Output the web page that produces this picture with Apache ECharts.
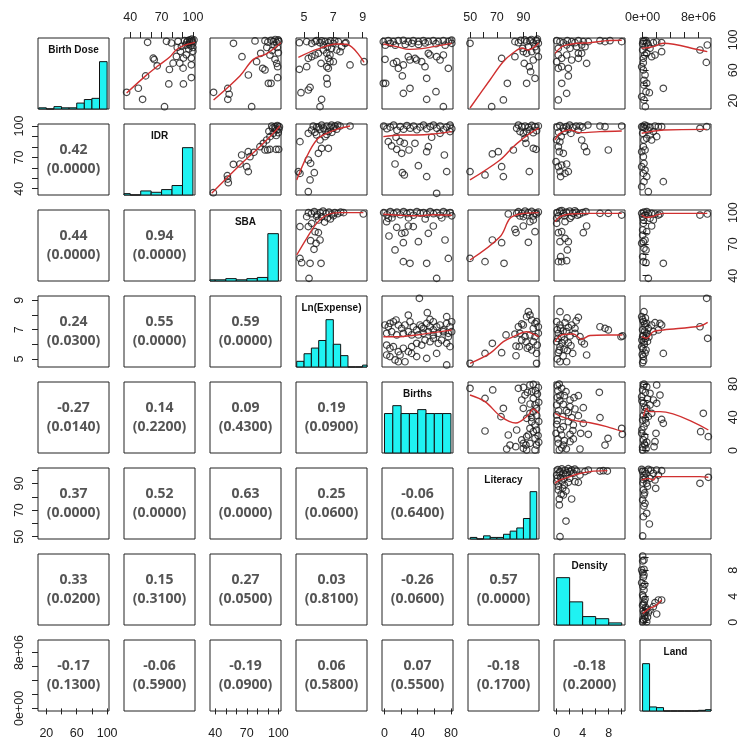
<!DOCTYPE html>
<html><head><meta charset="utf-8">
<script src="https://cdn.jsdelivr.net/npm/echarts@6/dist/echarts.min.js"></script>
<style>html,body{margin:0;padding:0;background:#fff}#c{width:750px;height:750px}</style>
</head><body><div id="c"></div>
<script>
// ---------- variables, axes ----------
const varNames = ['Birth Dose','IDR','SBA','Ln(Expense)','Births','Literacy','Density','Land'];
const axisMin = [9, 34, 35, 4.45, -3, 48.3, -0.4, -0.37e6];
const axisMax = [102.5, 102, 102.5, 9.3, 82.5, 101.7, 10.5, 9.8e6];
const tickValues = [[20,40,60,80,100],[40,50,60,70,80,90,100],[40,50,60,70,80,90,100],[5,6,7,8,9],[0,20,40,60,80],[50,60,70,80,90,100],[0,2,4,6,8,10],[0,2e6,4e6,6e6,8e6]];
const labelValues = [[20,60,100],[40,70,100],[40,70,100],[5,7,9],[0,40,80],[50,70,90],[0,4,8],[0,8e6]];

// ---------- histograms (diagonal) ----------
const histStart = [10, 30, 30, 4.5, 0, 50, 0, 0];
const histWidth = [10, 10, 10, 0.5, 10, 5, 2, 1e6];
const histBD = [1,0,2,1,1,5,8,9,40];
const histIDR = [1,0,3,2,4,7,35];
const histSBA = [1,1,2,1,2,3,40];
const histLE = [3,7,10,14,25,12,6,0,0,1];
const histBirths = [10,12,10,10,11,10,10,10];
const histLit = [1,0,2,1,1,3,5,7,13,30];
const histDen = [45,22,8,6,2];
const histLand = [70,6,5,0,0,0,0,0,1,2];

// ---------- correlations (lower triangle, row by row) ----------
const corrR = ['0.42','0.44','0.94','0.24','0.55','0.59','-0.27','0.14','0.09','0.19','0.37','0.52','0.63','0.25','-0.06','0.33','0.15','0.27','0.03','-0.26','0.57','-0.17','-0.06','-0.19','0.06','0.07','-0.18','-0.18'];
const corrP = ['0.0000','0.0000','0.0000','0.0300','0.0000','0.0000','0.0140','0.2200','0.4300','0.0900','0.0000','0.0000','0.0000','0.0600','0.6400','0.0200','0.3100','0.0500','0.8100','0.0600','0.0000','0.1300','0.5900','0.0900','0.5800','0.5500','0.1700','0.2000'];

// ---------- scatter points [x (column var), y (row var)] and smooth fits ----------
const bd_idr = [[56.6,96.8],[36.5,31],[47.7,36.3],[51.8,21.8],[54.7,52.6],[62,76],[63,74],[65.8,65.9],[72.8,12],[76.9,42],[90.9,42],[98.5,50.4],[98.5,67.2],[77.5,61],[81,69.4],[84.2,78.2],[87.4,69.4],[89,91.5],[93.7,80.4],[90.6,62.8],[98.5,76],[79.4,95.9],[74.7,98.1],[85.8,98.1],[95,99],[97,100],[99,98],[100,96],[96,94],[98,92],[100,90],[94,97],[92,99],[101,100],[99,101],[97,97],[93,93],[100,85],[96,88],[88,85],[91,76],[85,90]];
const bd_idr_fit = [[36.5,30],[54.7,52.6],[66.7,65.9],[77.8,77.5],[84.2,87.1],[93.7,93.7],[102,96.8]];
const bd_sba = [[57.3,95.5],[65.4,77.9],[38.4,31],[51.9,36.1],[53.2,28.4],[51.9,21.7],[77.8,98.6],[87.3,99],[95.2,97.7],[98.4,96.3],[83.2,82.3],[79.3,71.3],[85.1,62.6],[87.3,60.4],[71.5,53.8],[92,80],[96.8,74.4],[98.4,69.1],[99.3,64.7],[90.5,42.8],[93,42.8],[99.3,50.2],[74.6,12.1],[100,100],[100.5,98],[97,100.5],[93,99.5],[90,97],[96,93],[99,90],[94,86],[100,83],[89,90]];
const bd_sba_fit = [[38.4,20.9],[63.4,52.5],[76.2,74.4],[89,82],[102.4,96.3]];
const bd_le = [[4.68,96.3],[5.18,97.7],[5.52,95.5],[5.75,97.7],[6.09,96.3],[6.43,97.7],[6.66,96.3],[7.0,95.5],[7.34,97.7],[7.8,95.5],[5.98,82.3],[6.32,86.7],[6.55,82.3],[6.88,88.9],[7.23,86.7],[7.57,91.1],[7.46,84.5],[6.77,80.1],[6.66,75.7],[6.77,71.3],[7.0,71.3],[5.52,77.9],[5.29,75.7],[5.75,80.1],[4.68,61.2],[5.18,64.7],[6.16,69.1],[6.55,64.7],[6.66,62.6],[6.55,49.4],[6.59,41.9],[5.41,37.5],[5.29,34],[4.79,30.5],[6.2,21.7],[6.09,12.1],[8.14,67],[9.1,71.3],[7.86,96.3],[5.86,99],[6.2,98.8],[6.8,98.8],[7.1,98.8],[6.32,93.3],[6.6,91.1]];
const bd_le_fit = [[4.61,77],[5.86,87.5],[7.23,94.6],[7.91,94.2],[9.1,70.5]];
const bd_bir = [[-1.4,97.7],[4.6,99],[10.7,97.7],[16.7,99],[22.7,99.5],[28.7,97.7],[34.7,99],[40.8,97.7],[46.8,99],[52.8,97.7],[58.8,99],[64.8,97.7],[70.9,99],[76.9,97.7],[80.9,99.8],[1,93],[7,95.5],[13,93],[25,94],[33,95.5],[41,94],[49,96],[62,95],[73,93],[81,95.5],[0.6,74.4],[10.7,69.1],[14.7,71.3],[16.7,62.6],[22.7,67],[28.7,77.9],[30.7,73.5],[36.8,75.7],[38.7,73.5],[44.8,71.3],[52.8,82.3],[54.8,80.1],[62.8,77.9],[66.9,73.5],[70.9,80.1],[76.9,62.6],[48.8,64.7],[-1.4,42.8],[1.4,42.8],[22.7,29.6],[30.7,36.2],[21.5,52.5],[50.8,49.4],[62,31.8],[50.8,21.7],[70.9,12.1]];
const bd_bir_fit = [[-1.4,94.6],[14.7,91.1],[30,87.5],[45,88.5],[58.8,91.1],[81,95.5]];
const bd_lit = [[49.8,95.5],[66.1,12.1],[74.9,20.9],[77.9,42.8],[73.6,75.7],[83.6,77.9],[89.4,88.9],[89.9,84.5],[83.6,97.7],[86.2,96.3],[92.4,97.7],[94.9,99],[97.4,96.3],[99.9,99],[101.2,95.5],[93.7,91.1],[98.7,91.1],[96.2,84.5],[99.9,86.7],[92.4,82.3],[90.6,69.1],[94.4,64.7],[95.4,58.2],[92.4,42.8],[98.7,49.4],[97.4,73.5],[101.2,77.9],[91,100],[96,100.5],[100.5,101],[88,99.5]];
const bd_lit_fit = [[49.8,10.3],[64.8,47.2],[74.6,70.9],[82.1,82.7],[88.9,89.3],[93.4,86.7],[101.5,95.9]];
const bd_den = [[0.01,99],[0.52,97.7],[1.03,96.3],[1.65,99],[2.31,97.7],[2.82,96.3],[3.34,99],[4.1,97.7],[4.87,97.7],[6.66,99],[7.43,97.7],[8.2,99],[9.99,97.7],[0.26,88.9],[1.54,93.3],[2.05,88.9],[3.08,91.1],[3.85,93.3],[4.36,91.1],[0.26,80.1],[0.78,75.7],[1.54,80.1],[2.31,73.5],[3.34,82.3],[3.85,82.3],[4.61,69.1],[3.34,75.7],[0.26,62.6],[0.78,64.7],[1.8,62.6],[0.01,71.3],[1.8,52.5],[0.78,42.8],[1.54,29.6],[0.26,20.9]];
const bd_den_fit = [[-0.25,82.3],[0.78,91],[1.54,93.3],[3.08,95.5],[5.13,96.3],[7.69,99],[10,99.5]];
const bd_land = [[0.11e6,97.7],[0.59e6,96.3],[0.35e6,91.1],[0.01e6,86.7],[0.82e6,93.3],[1.54e6,96.3],[2.02e6,97.2],[2.73e6,96.3],[1.06e6,88.9],[0.59e6,82.3],[1.78e6,80.1],[1.3e6,77.9],[2.73e6,84.5],[0.11e6,75.7],[-0.13e6,64.7],[0.11e6,60.4],[0.35e6,53.8],[0.2e6,46.8],[0.59e6,42.8],[0.2e6,40.6],[0.49e6,31.8],[0.97e6,30.5],[0.2e6,20.9],[0.39e6,12.1],[-0.13e6,25.3],[2.97e6,36.2],[8.22e6,86.7],[9.27e6,93.3],[9.13e6,70.4],[0.2e6,99],[0.49e6,99],[0.01e6,95],[0.3e6,80],[0.1e6,70]];
const bd_land_fit = [[-0.13e6,88.9],[1.54e6,91.1],[2.97e6,95.5],[8.22e6,86.7],[9.27e6,84.5]];

const idr_sba = [[38.2,36.2],[51.8,49.3],[52.4,45.8],[51.5,52.5],[57.2,63.4],[65.1,72.3],[71.4,75.5],[63.5,63.7],[73,70.7],[76.8,74.9],[82.5,80.3],[85.7,83.5],[88.9,86.7],[92,89.9],[95.2,93.1],[98.4,96.2],[101,99.4],[96.8,99.4],[93.7,100.1],[99.9,93.7],[87.3,77.1],[89.8,77.1],[92,77.7],[97.8,77.7],[100.3,77.7],[69.9,61.1],[71.4,56.4],[99,100.5],[100.5,97],[97,97.5],[91,95],[94.5,98],[98,91]];
const idr_sba_fit = [[36.6,35.6],[63.5,62.7],[80,78],[95,93],[101.5,100.1]];
const idr_le = [[4.72,85.1],[4.61,56.4],[4.72,54.7],[5.29,67.5],[5.45,64.3],[5.41,48.4],[5.7,55.4],[5.29,37.2],[5.98,73.9],[6.2,78.7],[6.66,78.7],[6.43,89.9],[6.09,86.7],[5.86,91.5],[5.29,93.1],[5.52,96.2],[7.46,100.1],[8.14,100.1],[5.63,100],[5.98,99],[6.2,101],[6.32,98],[6.55,100],[6.77,99],[6.88,101],[7,98],[7.11,100],[7.23,97],[6.66,95],[6.43,96],[6.09,97],[5.86,99],[7.3,101],[5.75,94],[6.55,92],[6.9,94]];
const idr_le_fit = [[4.5,48.4],[5.18,70.7],[5.86,86.7],[6.55,93.1],[7.23,96.9],[8.14,100.1]];
const idr_bir = [[4.6,85.1],[8.6,81],[13.9,89.3],[14.7,77.7],[18.7,85.1],[23.9,83.5],[20.7,73.9],[12.7,63.7],[21.5,55.4],[23.9,53.2],[29.5,77.1],[36.7,83.5],[40.8,62.1],[50.8,51.6],[52.8,80.3],[50.8,75.5],[56.8,89.3],[72.1,72.3],[74.9,56.4],[62.8,35.6],[66.9,93.1],[78.9,94.7],[-1,100],[3,97.5],[7,99],[11,101],[15,96],[19,99.5],[23,97],[27,100.5],[31,98],[35,100],[39,96.5],[43,99],[47,101],[51,97.5],[55,99.5],[59,101],[63,98],[67,100],[71,96.5],[75,99],[79,101],[81,97.5]];
const idr_bir_fit = [[-1.4,89.9],[18.7,91.5],[38.7,91.5],[58.8,92.4],[81,94.7]];
const idr_lit = [[49.8,56.4],[61.1,53.2],[66.6,73.3],[71.1,75.5],[73.6,61.1],[74.9,51.6],[82.4,77.1],[84.9,97.9],[91.2,88.3],[91.9,83.5],[94.4,56.4],[97.4,78.7],[99.5,77.7],[86.2,101],[88.7,99.4],[91.2,100.1],[93.7,98.8],[96.2,100.7],[98.7,99.4],[101.2,100.1],[92.4,94.7],[94.9,96.3],[97.4,93.7],[99.9,95.6],[89.9,93.1],[87.4,94.7]];
const idr_lit_fit = [[49.8,48.4],[72.4,67.5],[82.4,80.3],[89.9,88.3],[94.9,93.1],[101.5,98]];
const idr_den = [[0.27,80.3],[0.42,75.5],[1.03,73.9],[-0.09,65.9],[0.27,61.1],[0.78,62.7],[1.54,63.7],[0.52,56.4],[1.29,54.7],[1.8,56.4],[0.62,51.6],[3.85,86.7],[4.26,80.3],[4.61,75.5],[7.94,77.1],[9.99,100.1],[6.66,100.1],[7.43,99.4],[3.59,100.1],[0.1,99],[0.5,100.5],[1,98],[1.5,99.5],[2,101],[2.5,98.5],[3,100],[4,99],[4.8,101],[0.3,94],[1.2,95],[2.2,93],[0.7,90],[1.8,97],[3.3,96],[0,87],[0.5,85]];
const idr_den_fit = [[-0.25,86.7],[0.52,93.1],[2.06,96.3],[3.59,93.7],[6.66,94.7],[10,95.3]];
const idr_land = [[-0.13e6,99.4],[0.35e6,97.9],[0.59e6,100.1],[1.06e6,98.8],[1.78e6,100.1],[2.26e6,99.4],[2.73e6,99.4],[1.54e6,94.7],[1.06e6,91.5],[2.02e6,89.9],[1.3e6,86.7],[0.59e6,88.3],[0.11e6,80.3],[-0.13e6,75.5],[0.35e6,77.1],[0.11e6,70.7],[0.2e6,64.3],[-0.13e6,61.1],[0.35e6,57.9],[0.11e6,54.7],[0.59e6,51.6],[0.2e6,46.8],[-0.13e6,42],[0.82e6,37.2],[2.97e6,46.8],[8.22e6,97.9],[9.18e6,99.4],[0.01e6,93.1],[0.2e6,86.7],[0.1e6,99],[0.3e6,101],[0.8e6,96]];
const idr_land_fit = [[-0.13e6,93.1],[1.06e6,94.7],[2.97e6,96.3],[9.18e6,96.9]];

const sba_le = [[5.18,96.2],[5.29,86.7],[4.72,86.7],[5.52,89.8],[5.75,81.9],[5.98,81],[5.45,73.3],[6.09,74],[5.68,65.1],[5.82,70.8],[4.72,56.5],[4.84,52.4],[5.41,51.8],[6.16,51.8],[5.34,37.5],[9.05,98.7],[5.5,99],[5.7,101],[5.9,98],[6.1,100],[6.3,101.5],[6.5,99],[6.7,100.5],[6.9,98.5],[7.1,100],[7.3,99],[7.5,100.5],[6.2,96],[6.6,95],[6.0,93],[6.4,91],[5.85,96.5],[7.0,97],[6.8,94],[7.7,100],[5.3,100]];
const sba_le_fit = [[4.5,59.7],[5.18,75.6],[5.86,89.8],[6.55,97.7],[7.46,100],[9.05,100]];
const sba_bir = [[5.4,77.8],[14.7,86],[24.7,81],[20.7,80.3],[22.7,71.4],[12.7,64.5],[28.7,87.3],[34.7,86.7],[40.8,72.4],[52.8,80.3],[58.8,87.3],[72.9,74],[76.9,56.5],[22.7,53.4],[30.7,51.8],[50.8,51.8],[62.8,37.5],[2.6,91.4],[4.6,94.6],[-1,100],[3,98],[7,101],[11,99],[15,100.5],[19,98],[23,101],[27,99],[31,100],[35,97.5],[39,101],[43,99.5],[47,100],[51,98.5],[55,101],[59,99],[63,100],[67,97.5],[71,101],[75,99],[79,100],[81,97],[9,95],[29,95],[49,94],[69,95]];
const sba_bir_fit = [[-1.4,98.5],[20,97.5],[40,97],[60,98],[81,97.5]];
const sba_lit = [[49.8,56.5],[61.1,53.4],[66.6,74],[73.6,71.4],[75.4,51.8],[78.6,98.7],[83.6,84.1],[84.4,81],[89.9,87.3],[93.7,71.8],[94.9,91.4],[98.7,81.9],[97.4,93],[89.9,96.2],[86.2,100.9],[88.7,99.3],[91.2,101.5],[93.7,100],[96.2,101.2],[98.7,99.3],[101.2,100.6],[87.4,96.8],[92.4,97.7],[97.4,96.8],[99.9,98.7],[84.9,99.3]];
const sba_lit_fit = [[49.8,55],[72.4,77.1],[79.9,94.6],[87.4,98.7],[101.5,100]];
const sba_den = [[0.01,89.8],[0.27,80.9],[0.78,81.9],[0.52,72.4],[1.29,75.6],[1.8,72.4],[1.65,64.5],[0.62,58.1],[0.27,53.4],[0.78,53.4],[1.54,54.3],[4.1,80.9],[4.61,87.3],[9.99,97.7],[6.66,99.3],[7.94,99.3],[2.06,94.6],[1.29,91.4],[0.01,94.6],[0.1,100],[0.5,101.5],[1,99],[1.5,100.5],[2,101.5],[2.5,99.5],[3,100.5],[3.5,98.5],[4,100],[4.5,101],[0.3,97],[1.2,97],[2.3,96.5],[3.2,97.5],[0.8,102],[2.8,101.8]];
const sba_den_fit = [[-0.25,91.4],[0.52,96.2],[2.06,98.7],[5.13,99.3],[10,99.3]];
const sba_land = [[-0.13e6,99.3],[0.35e6,97.7],[0.82e6,98.7],[1.3e6,99.3],[1.78e6,98.7],[2.26e6,97.7],[2.49e6,98.7],[1.06e6,94.6],[1.54e6,93],[1.3e6,87.3],[0.11e6,89.8],[0.01e6,83.5],[0.59e6,81.9],[0.35e6,74],[0.11e6,72.4],[-0.13e6,70.8],[0.2e6,66.1],[0.49e6,64.5],[0.01e6,58.1],[0.11e6,53.4],[0.49e6,52.4],[0.82e6,37.5],[2.97e6,51.8],[8.22e6,97.7],[9.27e6,98.7],[0.11e6,93],[0.01e6,78.7],[0.2e6,100.5],[0.6e6,101],[0,96]];
const sba_land_fit = [[-0.13e6,97.7],[0.59e6,95.4],[1.54e6,96.6],[2.97e6,99.3],[9.27e6,99.3]];

const le_bir = [[42,9.14],[28.7,8.0],[51.6,8.16],[54.8,7.7],[74.9,7.89],[58.8,7.54],[44.8,7.2],[0.6,7.32],[4.6,7.2],[6.6,7.43],[10.7,7.54],[13.9,7.66],[16.7,7.32],[20.7,7.09],[24.7,7.32],[30.7,7.54],[34.7,7.2],[38.7,6.98],[42.8,7.32],[46.8,7.09],[50.8,7.43],[54.8,7.2],[58.8,6.98],[62.8,7.2],[66.9,7.32],[70.9,6.98],[74.9,7.43],[78.9,7.2],[80.9,7.54],[2.6,6.75],[8.6,6.86],[14.7,6.64],[22.7,6.75],[28.7,6.86],[32.7,6.64],[40.8,6.64],[46.8,6.75],[52.8,6.86],[58.8,6.64],[64.8,6.75],[70.9,6.86],[76.9,6.75],[80.9,6.86],[2.6,5.95],[6.6,5.73],[10.7,5.84],[16.7,5.5],[22.7,5.73],[28.7,5.5],[32.7,5.84],[38.7,6.07],[44.8,5.95],[48.8,6.29],[54.8,6.18],[58.8,6.41],[64.8,6.07],[68.8,6.29],[74.9,6.07],[78.9,5.84],[76.9,6.52],[6.6,5.16],[12.7,4.93],[18.7,5.27],[24.7,4.81],[32.7,5.38],[38.7,5.16],[50.8,5.04],[62.8,5.38],[74.9,4.59],[16.7,4.81],[2.6,5.27]];
const le_bir_fit = [[-1.4,6.52],[14.7,6.52],[38.7,6.64],[58.8,6.8],[81,6.98]];
const le_lit = [[49.8,4.7],[61.1,5.38],[66.6,6.07],[73.6,5.43],[76.9,6.64],[83.6,6.7],[84.4,5.88],[84.4,5.22],[86.2,7.2],[88.7,7.39],[92.4,7.89],[93.7,8.23],[94.9,8.0],[96.2,7.66],[97.4,7.09],[98.7,6.52],[99.9,7.55],[94.4,5.84],[92.9,5.73],[99.9,5.38],[101.2,6.75],[89.9,7.32],[91.2,6.52],[94.9,6.64],[87.4,6.75],[88.7,6.29],[92,6.18],[97.4,6.18],[96.2,5.61],[100.4,5.95],[98.7,7.43],[101.2,7.2],[86.9,5.84],[99.9,4.7]];
const le_lit_fit = [[49.8,4.7],[64.8,5.38],[74.9,6.18],[82.4,6.52],[92.4,6.86],[96.2,6.75],[101.5,6.52]];
const le_den = [[0.52,8.23],[3.34,7.84],[0.01,7.55],[0.52,7.32],[1.29,7.48],[1.8,7.16],[2.31,7.32],[2.82,7.09],[1.54,6.86],[0.27,6.75],[0.78,6.52],[2.06,6.57],[2.82,6.75],[3.59,6.52],[3.85,6.18],[4.26,6.02],[0.01,6.18],[0.52,5.84],[1.14,5.66],[0.27,5.43],[1.65,5.57],[2.47,5.38],[4.61,5.27],[0.52,4.81],[1.54,4.81],[6.66,7.2],[7.43,7.09],[7.94,6.98],[9.89,6.52],[10.14,6.57],[0.1,7.0],[0.6,7.1],[1.0,6.9],[0.2,6.4],[1.2,6.3],[0.8,6.1],[0.4,5.6],[1.0,5.2],[0.1,5.0],[1.8,6.1],[2.2,5.9],[3.0,7.6],[1.6,7.8]];
const le_den_fit = [[-0.25,6.18],[0.78,6.64],[2.57,6.7],[3.85,6.35],[5.13,6.6],[7.69,6.64],[10.1,6.64]];
const le_land = [[0.2e6,8.23],[-0.13e6,7.89],[0.11e6,7.55],[0.59e6,7.43],[1.3e6,7.32],[1.78e6,7.48],[2.49e6,7.43],[1.54e6,6.86],[2.26e6,6.98],[2.73e6,7.32],[0.59e6,6.75],[0.01e6,6.52],[0.2e6,6.18],[-0.13e6,5.84],[0.49e6,5.61],[0.11e6,5.16],[0.01e6,4.75],[2.97e6,5.38],[9.18e6,9.14],[8.22e6,7.2],[9.32e6,6.41],[0.35e6,7.2],[0.82e6,7.09],[0,7.0],[0.3e6,6.9],[0.1e6,6.6],[0.4e6,6.4],[-0.1e6,6.3],[0.25e6,6.0],[0.05e6,5.7],[0.35e6,5.4],[-0.05e6,5.3],[0.15e6,4.9],[0.5e6,6.6],[0.7e6,6.2],[0,7.7],[0.4e6,7.8],[0.9e6,6.5],[0.3e6,7.4]];
const le_land_fit = [[-0.13e6,6.52],[0.59e6,6.41],[1.54e6,6.86],[2.97e6,6.98],[8.22e6,7.25],[9.32e6,7.5]];

const bir_lit = [[49.8,74.9],[61.1,62.8],[66.9,72.9],[61.1,23.5],[74.9,50.8],[73.1,40.8],[78.6,18.7],[79.9,6.6],[77.4,1.8],[84.2,4.6],[84.9,24.7],[86.2,74.9],[88.7,60.8],[89.9,50.8],[91.2,66.8],[92.4,38.7],[93.7,18.7],[94.9,78.9],[97.4,79.7],[96.2,70.9],[97.4,62.8],[98.7,54.8],[99.9,50.8],[97.4,46.8],[94.9,44.8],[96.2,34.7],[98.7,30.7],[99.9,24.7],[97.4,22.7],[94.9,26.7],[92.4,16.7],[98.7,14.7],[99.9,6.6],[94.9,8.6],[91.9,6.6],[89.9,8.6],[88.7,12.7],[89.9,2.6],[92.4,0.6],[98.7,0.6],[96.2,39.6],[101.2,76],[100.5,68],[101.5,58],[100,42],[101.5,35],[101,18],[101.5,10],[99,72],[93,70],[90,76],[95,56]];
const bir_lit_fit = [[49.8,66.8],[61.1,58.8],[73.1,40.8],[84.2,33.1],[93.7,42.8],[97.4,50],[101.5,44.8]];
const bir_den = [[0.12,78.1],[0.78,74.9],[1.44,70.9],[0.52,66],[2.06,60.8],[2.67,63.6],[3.34,66],[1.03,55.6],[0.01,54.8],[2.06,52.8],[2.82,50],[4.1,51.6],[0.01,42.8],[0.93,40.8],[1.8,45.8],[2.31,39.6],[3.34,42],[0.01,31.5],[1.03,28.7],[1.8,34.7],[2.57,30.7],[4.1,32.7],[4.87,19.5],[3.69,20.7],[2.06,19.5],[0.78,18.7],[-0.09,20.7],[0.27,8.6],[1.03,6.6],[2.06,10.6],[2.57,13.9],[3.59,1.8],[0.42,0.6],[6.56,70.1],[6.66,39.6],[7.89,14.7],[7.43,6.6],[9.99,26.7],[10.09,19.5],[0.2,72],[0.5,60],[0.3,48],[0.1,36],[0.6,25],[0.2,14],[1.2,12],[1.5,2],[0.8,3],[0.1,64],[1.2,66],[1.5,48],[2.5,24],[0.4,80]];
const bir_den_fit = [[-0.25,44.8],[0.78,40.8],[2.06,37.5],[3.85,34.7],[5.13,33.5],[7.69,28.7],[10.09,22.7]];
const bir_land = [[1.06e6,68.9],[2.02e6,78.9],[2.49e6,66.8],[1.54e6,60.8],[1.06e6,54.8],[2.02e6,56.8],[1.3e6,44.8],[0.82e6,40.8],[0.59e6,50.8],[2.73e6,37.5],[2.97e6,32.7],[1.92e6,20.7],[1.78e6,10.6],[1.64e6,4.6],[8.7e6,44.8],[8.32e6,22.7],[9.42e6,16.7],[0.59e6,76.9],[0.01e6,72.9],[-0.13e6,64.8],[0.11e6,56.8],[0.35e6,46.8],[0.01e6,36.7],[0.2e6,28.7],[-0.13e6,20.7],[0.11e6,12.7],[0.35e6,6.6],[0.01e6,0.6],[0.2e6,80],[0.4e6,70],[-0.1e6,60],[0.3e6,52],[0.1e6,42],[0.5e6,33],[-0.1e6,25],[0.3e6,17],[0.6e6,10],[0,4],[0.5e6,2],[0.15e6,78],[0.7e6,62],[0.4e6,38],[0.25e6,8]];
const bir_land_fit = [[0.11e6,40.8],[0.59e6,50.8],[0.97e6,46.8],[2.49e6,46.8],[9.42e6,24.7]];

const lit_den = [[0.01,96.4],[0.52,99],[1.03,97.7],[1.44,96.4],[2.06,99],[2.57,97.7],[3.08,99.4],[3.59,96.4],[4.36,99],[4.87,100.2],[6.66,99.4],[7.17,99.7],[7.79,99.4],[0.01,91.4],[0.78,91.9],[1.8,90.9],[2.82,91.4],[3.34,90.9],[0.27,85.2],[0.93,86.4],[1.44,84.4],[1.19,88.9],[0.42,78.4],[1.03,81.4],[2.31,78.4],[0.42,73.9],[1.44,61.8],[0.52,50.1],[0.2,100.5],[0.8,101],[1.3,100],[1.8,101.2],[2.3,100.3],[0.4,98],[1.6,98.3],[2.8,100.8],[0.1,94],[0.6,94.5],[1.1,93.5],[2,94],[0.3,88],[0.7,82]];
const lit_den_fit = [[-0.25,90.2],[0.52,92.7],[2.06,95.2],[3.08,97],[5.13,99],[7.79,99.7]];
const lit_land = [[-0.13e6,100.7],[0.35e6,98.9],[0.82e6,100.7],[1.54e6,97.7],[2.26e6,96.4],[2.73e6,99.7],[1.06e6,93.9],[1.78e6,92.7],[1.88e6,86.4],[0.59e6,90.2],[0.11e6,85.2],[0.2e6,81.4],[0.01e6,77.6],[0.35e6,75.1],[0.2e6,73.1],[0.59e6,67.6],[0.11e6,65.1],[0.97e6,59.6],[0.01e6,50.6],[8.22e6,90.2],[9.42e6,94.7],[0,99],[0.2e6,96],[0.5e6,97.5],[0.1e6,93],[0.4e6,94],[0.7e6,88],[0.3e6,83],[0.05e6,90.5],[1.2e6,100],[2.0e6,100.2]];
const lit_land_fit = [[-0.13e6,92.7],[0.82e6,93.9],[1.54e6,92.7],[2.02e6,95.2],[8.22e6,95.2],[9.42e6,94.7]];

const den_land = [[0.01e6,10.19],[0.2e6,9.58],[0.01e6,9.43],[0.2e6,8.15],[-0.13e6,8.04],[0.01e6,7.64],[0.2e6,7.28],[0.11e6,6.92],[-0.13e6,6.1],[0.2e6,4.97],[0.01e6,4.21],[0.35e6,3.54],[0.11e6,2.82],[0.59e6,2.0],[0.2e6,1.39],[0.82e6,1.49],[1.06e6,1.9],[1.54e6,2.41],[1.78e6,3.03],[2.26e6,3.44],[2.73e6,3.44],[2.02e6,1.29],[0.35e6,0.62],[0.01e6,0.11],[0.59e6,0.11],[0.05e6,0.5],[0.3e6,1.0],[0.1e6,1.8],[0.45e6,2.3],[0,2.6],[0.25e6,3.1],[0.15e6,0.3],[0.4e6,1.6],[0.7e6,0.8],[0.05e6,5.5],[0.3e6,5.8],[0.1e6,3.9]];
const den_land_fit = [[0.01e6,1.39],[0.35e6,1.65],[0.97e6,2.16],[1.78e6,2.5],[2.73e6,3.44]];

// ---------- build ----------
const histCounts = [histBD, histIDR, histSBA, histLE, histBirths, histLit, histDen, histLand];
const pairs = [
  [0,1,bd_idr,bd_idr_fit],[0,2,bd_sba,bd_sba_fit],[0,3,bd_le,bd_le_fit],[0,4,bd_bir,bd_bir_fit],[0,5,bd_lit,bd_lit_fit],[0,6,bd_den,bd_den_fit],[0,7,bd_land,bd_land_fit],
  [1,2,idr_sba,idr_sba_fit],[1,3,idr_le,idr_le_fit],[1,4,idr_bir,idr_bir_fit],[1,5,idr_lit,idr_lit_fit],[1,6,idr_den,idr_den_fit],[1,7,idr_land,idr_land_fit],
  [2,3,sba_le,sba_le_fit],[2,4,sba_bir,sba_bir_fit],[2,5,sba_lit,sba_lit_fit],[2,6,sba_den,sba_den_fit],[2,7,sba_land,sba_land_fit],
  [3,4,le_bir,le_bir_fit],[3,5,le_lit,le_lit_fit],[3,6,le_den,le_den_fit],[3,7,le_land,le_land_fit],
  [4,5,bir_lit,bir_lit_fit],[4,6,bir_den,bir_den_fit],[4,7,bir_land,bir_land_fit],
  [5,6,lit_den,lit_den_fit],[5,7,lit_land,lit_land_fit],
  [6,7,den_land,den_land_fit]
];

const L0 = 38, STEP = 86, SZ = 71;
const FONT = '"Liberation Sans", Arial, sans-serif';
function fmt(v, k) {
  if (k === 7) {
    if (v === 0) return '0e+00';
    const e = Math.floor(Math.log10(Math.abs(v)));
    const m = Math.round(v / Math.pow(10, e));
    return m + 'e+' + (e < 10 ? '0' : '') + e;
  }
  return String(v);
}
const grids = [], xAxes = [], yAxes = [], series = [], graphics = [];
for (let i = 0; i < 8; i++) for (let j = 0; j < 8; j++) {
  const k = i * 8 + j;
  grids.push({left: L0 + STEP * j, top: L0 + STEP * i, width: SZ, height: SZ, show: true,
    borderColor: '#222', borderWidth: 1, backgroundColor: 'rgba(0,0,0,0)'});
  const top = i === 0 && j % 2 === 1, bottom = i === 7 && j % 2 === 0, xs = top || bottom;
  xAxes.push({gridIndex: k, type: 'value', min: axisMin[j], max: axisMax[j], position: top ? 'top' : 'bottom',
    axisLine: {show: false}, splitLine: {show: false},
    axisTick: {show: xs, length: 6, lineStyle: {color: '#222', width: 1}, customValues: tickValues[j]},
    axisLabel: {show: xs, customValues: labelValues[j], formatter: v => fmt(v, j), margin: bottom ? 16 : 14,
      color: '#222', fontSize: 12.5, fontFamily: FONT}});
  const left = j === 0 && i % 2 === 1, right = j === 7 && i % 2 === 0, ys = left || right;
  const diag = i === j;
  yAxes.push({gridIndex: k, type: 'value', min: diag ? 0 : axisMin[i],
    max: diag ? 1.5 * Math.max(...histCounts[i]) : axisMax[i], position: right ? 'right' : 'left',
    axisLine: {show: false}, splitLine: {show: false},
    axisTick: {show: ys, length: 6, lineStyle: {color: '#222', width: 1}, customValues: tickValues[i]},
    axisLabel: {show: ys, rotate: 90, customValues: labelValues[i], formatter: v => fmt(v, i),
      margin: left ? 12 : 16, color: '#222', fontSize: 12.5, fontFamily: FONT}});
  const cx = L0 + STEP * j + SZ / 2, cy = L0 + STEP * i + SZ / 2;
  if (diag) {
    graphics.push({type: 'text', x: cx, y: L0 + STEP * i + 12, silent: true,
      style: {text: varNames[i], fill: '#111', font: 'bold 10px ' + FONT, align: 'center', verticalAlign: 'middle',
        textAlign: 'center', textVerticalAlign: 'middle'}});
  } else if (i > j) {
    const idx = i * (i - 1) / 2 + j;
    graphics.push({type: 'text', x: cx, y: cy - 9, silent: true,
      style: {text: corrR[idx], fill: '#555', font: 'bold 14px "Open Sans"', align: 'center', verticalAlign: 'middle',
        textAlign: 'center', textVerticalAlign: 'middle'}});
    graphics.push({type: 'text', x: cx, y: cy + 10, silent: true,
      style: {text: '(' + corrP[idx] + ')', fill: '#555', font: 'bold 14px "Open Sans"', align: 'center', verticalAlign: 'middle',
        textAlign: 'center', textVerticalAlign: 'middle'}});
  }
}
function histRender(params, api) {
  const p0 = api.coord([api.value(0), api.value(2)]);
  const p1 = api.coord([api.value(1), 0]);
  const cs = params.coordSys;
  const rect = echarts.graphic.clipRectByRect(
    {x: p0[0], y: p0[1], width: p1[0] - p0[0], height: p1[1] - p0[1]},
    {x: cs.x, y: cs.y, width: cs.width, height: cs.height});
  if (!rect) return null;
  return {type: 'rect', shape: rect, style: {fill: '#1ff2f2', stroke: '#111', lineWidth: 1}};
}
for (let d = 0; d < 8; d++) {
  const data = histCounts[d].map((c, b) => [histStart[d] + b * histWidth[d], histStart[d] + (b + 1) * histWidth[d], c]);
  series.push({type: 'custom', xAxisIndex: d * 9, yAxisIndex: d * 9, data, encode: {x: [0, 1], y: 2},
    renderItem: histRender, silent: true, animation: false});
}
pairs.forEach(([i, j, pts, fit]) => {
  const k = i * 8 + j;
  series.push({type: 'scatter', xAxisIndex: k, yAxisIndex: k, data: pts, symbol: 'circle', symbolSize: 6.5,
    itemStyle: {color: 'rgba(0,0,0,0)', borderColor: '#1a1a1a', borderWidth: 1.2}, silent: true, animation: false, clip: false});
  series.push({type: 'line', xAxisIndex: k, yAxisIndex: k, data: fit, showSymbol: false, smooth: 0.35,
    lineStyle: {color: '#d03030', width: 1.4}, silent: true, animation: false, clip: true});
});
const chart = echarts.init(document.getElementById('c'), null, {renderer: 'canvas'});
chart.setOption({backgroundColor: '#fff', animation: false, grid: grids, xAxis: xAxes, yAxis: yAxes,
  series, graphic: {elements: graphics}});
</script></body></html>
